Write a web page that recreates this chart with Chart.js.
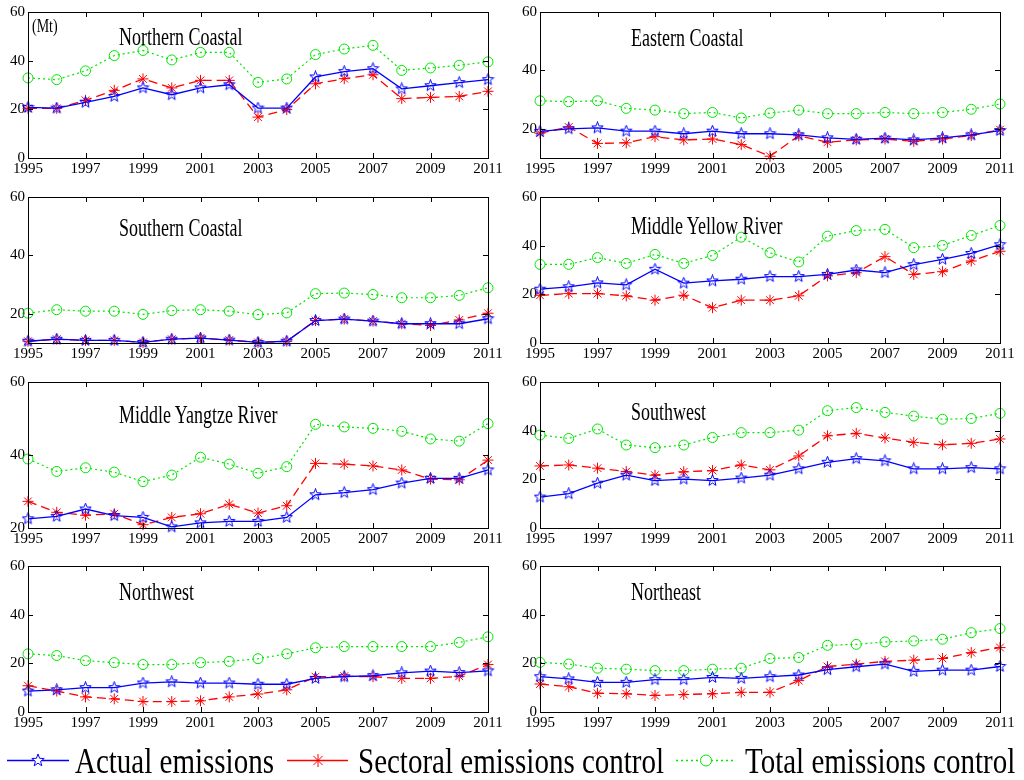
<!DOCTYPE html>
<html>
<head>
<meta charset="utf-8">
<script src="https://cdn.jsdelivr.net/npm/chart.js@4.4.1/dist/chart.umd.min.js"></script>
<style>
  body { margin: 0; background: #fff; width: 1024px; height: 780px; position: relative; overflow: hidden;
         font-family: "Liberation Serif", "Times New Roman", serif; }
  canvas { position: absolute; }
  .lbl { position: absolute; white-space: nowrap; color: #000; line-height: 1; transform-origin: left center; }
</style>
</head>
<body>
<script>
// years on the x axis
const years = ['1995','1996','1997','1998','1999','2000','2001','2002','2003','2004','2005','2006','2007','2008','2009','2010','2011'];

// Northern Coastal
const ncActual   = [20.8,20.5,22.9,25.3,28.8,26.0,28.8,30.1,20.5,20.5,33.3,35.5,36.7,28.4,29.7,31.0,32.2];
const ncSectoral = [20.4,20.4,23.7,27.8,32.5,28.8,31.9,31.9,16.8,19.9,30.5,32.6,34.2,24.4,24.9,25.3,27.4];
const ncTotal    = [32.9,32.2,35.8,42.1,44.2,40.3,43.4,43.4,31.1,32.5,42.5,44.8,46.3,36.0,37.0,38.1,39.5];

// Eastern Coastal
const ecActual   = [19.1,20.0,20.3,19.2,19.2,18.3,19.2,18.3,18.3,17.9,16.9,16.4,16.8,16.2,16.9,17.9,19.4];
const ecSectoral = [18.5,20.6,15.0,15.2,17.3,16.2,16.5,14.6,10.6,17.6,15.4,16.2,16.5,15.7,16.5,17.7,19.7];
const ecTotal    = [29.6,29.3,29.6,27.0,26.4,25.2,25.6,23.7,25.4,26.4,25.2,25.2,25.6,25.2,25.6,26.7,28.5];

// Southern Coastal
const scActual   = [10.6,11.3,10.9,10.9,10.2,11.3,11.7,11.0,10.2,10.6,17.7,18.2,17.5,16.6,16.6,16.6,18.3];
const scSectoral = [10.6,11.3,10.9,10.9,10.2,11.3,11.7,11.0,10.2,10.6,17.7,18.2,17.5,16.6,16.0,17.9,20.2];
const scTotal    = [20.2,21.4,20.9,20.9,19.8,21.1,21.4,20.9,19.7,20.3,26.9,27.1,26.6,25.5,25.5,26.3,28.9];

// Middle Yellow River
const myActual   = [22.1,23.1,24.7,23.9,30.3,24.6,25.5,26.2,27.3,27.3,28.2,30.0,28.9,32.2,34.4,36.8,40.4];
const mySectoral = [19.6,20.3,20.3,19.4,17.6,19.6,14.5,17.6,17.6,19.4,27.6,28.9,35.5,28.2,29.3,33.7,37.7];
const myTotal    = [32.3,32.3,35.1,32.7,36.4,32.7,36.0,43.5,37.1,33.3,43.9,46.2,46.7,39.2,40.1,44.2,48.3];

// Middle Yangtze River
const mzActual   = [22.5,23.2,25.2,23.4,22.9,20.3,21.4,21.8,21.8,22.9,29.1,29.7,30.5,32.3,33.6,33.6,35.9];
const mzSectoral = [27.3,24.3,23.5,23.9,20.9,22.9,23.9,26.5,24.1,26.1,37.7,37.5,37.0,35.9,33.4,33.2,38.6];
const mzTotal    = [38.9,35.5,36.5,35.3,32.7,34.5,39.4,37.5,35.0,36.8,48.4,47.7,47.3,46.5,44.4,43.8,48.6];

// Southwest
const swActual   = [12.7,14.1,18.4,21.7,19.5,20.1,19.5,20.5,21.7,24.3,27.0,28.5,27.6,24.3,24.3,24.8,24.3];
const swSectoral = [25.5,25.9,24.6,23.2,21.7,23.1,23.6,25.9,23.9,29.6,37.9,38.9,37.0,35.2,34.2,34.8,36.6];
const swTotal    = [38.2,36.8,40.7,34.1,33.0,34.1,37.2,39.2,39.2,40.2,48.2,49.5,47.5,46.0,44.7,45.0,47.1];

// Northwest
const nwActual   = [8.6,9.1,10.0,10.0,11.9,12.4,11.9,11.9,11.4,11.4,13.8,14.5,14.9,16.1,16.8,16.2,16.9];
const nwSectoral = [10.8,8.6,6.2,5.4,4.3,4.3,4.6,6.2,7.4,9.1,14.5,14.7,14.5,13.8,13.8,14.7,19.5];
const nwTotal    = [23.9,23.2,21.1,20.3,19.5,19.5,20.3,20.8,21.9,23.9,26.4,26.9,26.9,26.9,26.9,28.6,30.9];

// Northeast
const neActual   = [14.5,13.6,12.2,12.2,13.3,13.3,14.2,13.8,14.5,15.2,17.4,18.6,19.7,16.7,17.2,17.2,18.7];
const neSectoral = [11.5,10.4,7.7,7.5,6.8,7.2,7.5,8.1,8.1,12.9,18.7,19.7,20.8,21.3,22.0,24.4,26.5];
const neTotal    = [20.4,19.7,18.0,17.6,17.0,17.0,17.6,18.0,22.0,22.4,27.4,27.8,28.8,29.2,29.9,32.6,34.3];

const regionNames = ['Northern Coastal','Eastern Coastal','Southern Coastal','Middle Yellow River',
                     'Middle Yangtze River','Southwest','Northwest','Northeast'];
const yMins = [0, 10, 10, 0, 20, 0, 0, 0];
const yTickValues = [0, 20, 40, 60];
const seriesNames = ['Actual emissions', 'Sectoral emissions control', 'Total emissions control'];

const panels = [
  [ncActual, ncSectoral, ncTotal], [ecActual, ecSectoral, ecTotal],
  [scActual, scSectoral, scTotal], [myActual, mySectoral, myTotal],
  [mzActual, mzSectoral, mzTotal], [swActual, swSectoral, swTotal],
  [nwActual, nwSectoral, nwTotal], [neActual, neSectoral, neTotal]
];

// layout
const colLeft = [28, 540];
const rowTop = [12, 197, 382, 566];
const plotW = 460, plotH = 146;
const titleDy = [25, 26, 31, 29, 33, 30, 26, 26];

const BLUE = '#0000ff', RED = '#ff0000', GREEN = '#00e600';

// pentagram marker like matlab 'p'
function makePentagram(color) {
  const c = document.createElement('canvas');
  c.width = 13; c.height = 13;
  const g = c.getContext('2d');
  g.strokeStyle = color;
  g.lineWidth = 1;
  g.beginPath();
  for (let k = 0; k < 10; k++) {
    const r = k % 2 === 0 ? 6 : 2.5;
    const a = -Math.PI / 2 + k * Math.PI / 5;
    const x = 6.5 + r * Math.cos(a), y = 6.5 + r * Math.sin(a);
    if (k) g.lineTo(x, y); else g.moveTo(x, y);
  }
  g.closePath();
  g.stroke();
  return c;
}
const starImg = makePentagram(BLUE);

// box + inward ticks on all four sides
const framePlugin = {
  id: 'frame',
  afterDraw(chart) {
    const { ctx, chartArea: a, scales } = chart;
    ctx.save();
    ctx.strokeStyle = '#000';
    ctx.lineWidth = 1;
    ctx.strokeRect(a.left + 0.5, a.top + 0.5, a.right - a.left, a.bottom - a.top);
    ctx.beginPath();
    for (let i = 2; i < years.length - 1; i += 2) {
      const x = Math.round(scales.x.getPixelForValue(i)) + 0.5;
      ctx.moveTo(x, a.bottom); ctx.lineTo(x, a.bottom - 5);
      ctx.moveTo(x, a.top); ctx.lineTo(x, a.top + 5);
    }
    scales.y.ticks.forEach(t => {
      if (t.value <= scales.y.min || t.value >= scales.y.max) return;
      const y = Math.round(scales.y.getPixelForValue(t.value)) + 0.5;
      ctx.moveTo(a.left, y); ctx.lineTo(a.left + 5, y);
      ctx.moveTo(a.right, y); ctx.lineTo(a.right - 5, y);
    });
    ctx.stroke();
    ctx.restore();
  }
};

function addLabel(text, left, centerY, size, scaleY) {
  const d = document.createElement('div');
  d.className = 'lbl';
  d.textContent = text;
  d.style.fontSize = size + 'px';
  d.style.left = left + 'px';
  d.style.top = (centerY - size / 2) + 'px';
  d.style.transform = 'scaleY(' + scaleY + ')';
  document.body.appendChild(d);
}

panels.forEach((series, i) => {
  const col = i % 2, row = Math.floor(i / 2);
  const cv = document.createElement('canvas');
  cv.width = 512;
  cv.height = plotH + 12 + 28;
  cv.style.left = (colLeft[col] - 28) + 'px';
  cv.style.top = (rowTop[row] - 12) + 'px';
  document.body.appendChild(cv);

  const min = yMins[i];
  new Chart(cv.getContext('2d'), {
    type: 'line',
    data: {
      labels: years,
      datasets: [
        { label: seriesNames[0], data: series[0], borderColor: BLUE, borderWidth: 1.3,
          pointStyle: starImg, pointRadius: 6, backgroundColor: BLUE, clip: false },
        { label: seriesNames[1], data: series[1], borderColor: RED, borderWidth: 1.3, borderDash: [9, 5],
          pointStyle: 'star', pointRadius: 5.5, pointBorderWidth: 1, pointBorderColor: RED,
          backgroundColor: RED, clip: false },
        { label: seriesNames[2], data: series[2], borderColor: GREEN, borderWidth: 1.2, borderDash: [2, 3],
          pointStyle: 'circle', pointRadius: 5, pointBorderWidth: 1, pointBorderColor: GREEN,
          pointBackgroundColor: 'rgba(0,0,0,0)', backgroundColor: GREEN, clip: false }
      ]
    },
    options: {
      responsive: false,
      animation: false,
      events: [],
      layout: { padding: { top: 12, right: 24, left: 0, bottom: 0 } },
      plugins: { legend: { display: false }, tooltip: { enabled: false } },
      elements: { line: { tension: 0 } },
      scales: {
        x: {
          grid: { display: false, drawTicks: false },
          border: { display: false },
          afterFit: s => { s.height = 28; },
          ticks: {
            autoSkip: false, maxRotation: 0, padding: 2, color: '#000',
            font: { family: 'Liberation Serif', size: 15 },
            callback: (v, idx) => idx % 2 === 0 ? years[idx] : ''
          }
        },
        y: {
          min: min, max: 60,
          grid: { display: false, drawTicks: false },
          border: { display: false },
          afterFit: s => { s.width = 28; },
          afterBuildTicks: s => { s.ticks = yTickValues.filter(v => v >= min).map(v => ({ value: v })); },
          ticks: { padding: 3, color: '#000', font: { family: 'Liberation Serif', size: 15 } }
        }
      }
    },
    plugins: [framePlugin]
  });

  addLabel(regionNames[i], colLeft[col] + 91, rowTop[row] + titleDy[i], 18, 1.35);
});

addLabel('(Mt)', 32, 27, 14, 1.3);

// legend along the bottom
const svgNS = 'http://www.w3.org/2000/svg';
const svg = document.createElementNS(svgNS, 'svg');
svg.setAttribute('width', 1024);
svg.setAttribute('height', 780);
svg.style.position = 'absolute';
svg.style.left = '0px';
svg.style.top = '0px';
svg.innerHTML =
  '<line x1="7" y1="760.5" x2="69" y2="760.5" stroke="' + BLUE + '" stroke-width="1.5"/>' +
  '<polygon points="' + (() => { const p = []; for (let k = 0; k < 10; k++) { const r = k % 2 === 0 ? 6.5 : 2.7; const a = -Math.PI / 2 + k * Math.PI / 5; p.push((38 + r * Math.cos(a)).toFixed(1) + ',' + (760.5 + r * Math.sin(a)).toFixed(1)); } return p.join(' '); })() + '" fill="#fff" stroke="' + BLUE + '" stroke-width="1"/>' +
  '<line x1="287" y1="760.5" x2="348" y2="760.5" stroke="' + RED + '" stroke-width="1.5"/>' +
  '<g stroke="' + RED + '" stroke-width="1"><line x1="318" y1="754" x2="318" y2="767"/><line x1="311.5" y1="760.5" x2="324.5" y2="760.5"/><line x1="313.4" y1="755.9" x2="322.6" y2="765.1"/><line x1="313.4" y1="765.1" x2="322.6" y2="755.9"/></g>' +
  '<line x1="676" y1="760.5" x2="735" y2="760.5" stroke="' + GREEN + '" stroke-width="1.3" stroke-dasharray="2,3"/>' +
  '<circle cx="706" cy="760.5" r="5.5" fill="#fff" stroke="' + GREEN + '" stroke-width="1"/>';
document.body.appendChild(svg);

addLabel(seriesNames[0], 75, 761, 29, 1.2);
addLabel(seriesNames[1], 358, 761, 29, 1.2);
addLabel(seriesNames[2], 745, 761, 29, 1.2);
</script>
</body>
</html>
